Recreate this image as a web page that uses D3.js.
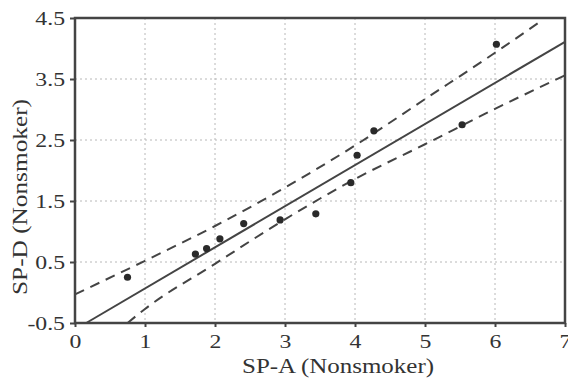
<!DOCTYPE html>
<html>
<head>
<meta charset="utf-8">
<script src="https://cdn.jsdelivr.net/npm/d3@7"></script>
<style>
  body { margin: 0; background: #fff; }
  text { font-family: "Liberation Serif", "DejaVu Serif", serif; fill: #333; }
</style>
</head>
<body>
<svg id="chart" width="568" height="385"></svg>
<script>
// scatter points
var spA = [0.75, 1.72, 1.88, 2.07, 2.41, 2.93, 3.44, 3.94, 4.03, 4.27, 5.53, 6.02];
var spD = [0.25, 0.63, 0.72, 0.88, 1.13, 1.19, 1.29, 1.80, 2.25, 2.65, 2.75, 4.07];

// fitted line end points
var fitX = [0.16, 7];
var fitY = [-0.5, 4.11];

// dashed bands
var upperX = [0, 1, 2, 3, 4, 5, 6, 6.62];
var upperY = [-0.03, 0.52, 1.09, 1.72, 2.41, 3.17, 3.93, 4.42];
var lowerX = [0.75, 1, 2, 3, 4, 5, 6, 7];
var lowerY = [-0.5, -0.27, 0.47, 1.20, 1.86, 2.43, 3.01, 3.56];

var xTicks = [0, 1, 2, 3, 4, 5, 6, 7];
var yTicks = [-0.5, 0.5, 1.5, 2.5, 3.5, 4.5];

var margin = {top: 18, right: 3, bottom: 62, left: 75};
var svg = d3.select('#chart');
var W = +svg.attr('width'), H = +svg.attr('height');
var w = W - margin.left - margin.right;
var h = H - margin.top - margin.bottom;

var x = d3.scaleLinear().domain([0, 7]).range([0, w]);
var y = d3.scaleLinear().domain([-0.5, 4.5]).range([h, 0]);

var g = svg.append('g').attr('transform', 'translate(' + margin.left + ',' + margin.top + ')');

// dotted grid
g.selectAll('line.gx')
    .data(xTicks.slice(1, -1))
  .enter().append('line')
    .attr('x1', d => x(d)).attr('x2', d => x(d))
    .attr('y1', 0).attr('y2', h)
    .attr('stroke', '#b8b8b8').attr('stroke-width', 1)
    .attr('stroke-dasharray', '2,3');

g.selectAll('line.gy')
    .data(yTicks.slice(1, -1))
  .enter().append('line')
    .attr('x1', 0).attr('x2', w)
    .attr('y1', d => y(d)).attr('y2', d => y(d))
    .attr('stroke', '#b8b8b8').attr('stroke-width', 1)
    .attr('stroke-dasharray', '2,3');

// axes (plain hyphen for the minus, as in the original)
var xAxis = d3.axisBottom(x).tickValues(xTicks).tickFormat(d => String(d)).tickSize(4).tickPadding(8);
var yAxis = d3.axisLeft(y).tickValues(yTicks).tickFormat(d => d.toFixed(1)).tickSize(5).tickPadding(3);

var gx = g.append('g').attr('transform', 'translate(0,' + h + ')').call(xAxis);
var gy = g.append('g').call(yAxis);
[gx, gy].forEach(function(a) {
    a.select('.domain').remove();
    a.selectAll('.tick line').attr('stroke', '#444').attr('stroke-width', 2);
    a.selectAll('.tick text')
        .style('font-family', '"Liberation Serif", serif')
        .style('font-size', '19px')
        .attr('fill', '#333')
        .attr('transform', 'scale(1.25,1)');
});

// bands and fitted line
var line = d3.line().x(d => x(d[0])).y(d => y(d[1])).curve(d3.curveMonotoneX);

g.append('path')
    .datum(d3.zip(upperX, upperY))
    .attr('d', line)
    .attr('fill', 'none').attr('stroke', '#444').attr('stroke-width', 2)
    .attr('stroke-dasharray', '10,7');

g.append('path')
    .datum(d3.zip(lowerX, lowerY))
    .attr('d', line)
    .attr('fill', 'none').attr('stroke', '#444').attr('stroke-width', 2)
    .attr('stroke-dasharray', '10,7');

g.append('path')
    .datum(d3.zip(fitX, fitY))
    .attr('d', d3.line().x(d => x(d[0])).y(d => y(d[1])))
    .attr('fill', 'none').attr('stroke', '#444').attr('stroke-width', 2);

// points
g.selectAll('circle.pt')
    .data(d3.zip(spA, spD))
  .enter().append('circle')
    .attr('cx', d => x(d[0])).attr('cy', d => y(d[1]))
    .attr('r', 3.6)
    .attr('fill', '#2a2a2a');

// frame
g.append('rect')
    .attr('x', 0).attr('y', 0).attr('width', w).attr('height', h)
    .attr('fill', 'none').attr('stroke', '#444').attr('stroke-width', 2.5);

// axis titles
svg.append('text')
    .attr('x', 338).attr('y', 373)
    .attr('text-anchor', 'middle')
    .attr('textLength', 192).attr('lengthAdjust', 'spacingAndGlyphs')
    .style('font-size', '20px')
    .text('SP-A (Nonsmoker)');

svg.append('text')
    .attr('transform', 'translate(27,197) rotate(-90)')
    .attr('text-anchor', 'middle')
    .attr('textLength', 196).attr('lengthAdjust', 'spacingAndGlyphs')
    .style('font-size', '20px')
    .text('SP-D (Nonsmoker)');
</script>
</body>
</html>
